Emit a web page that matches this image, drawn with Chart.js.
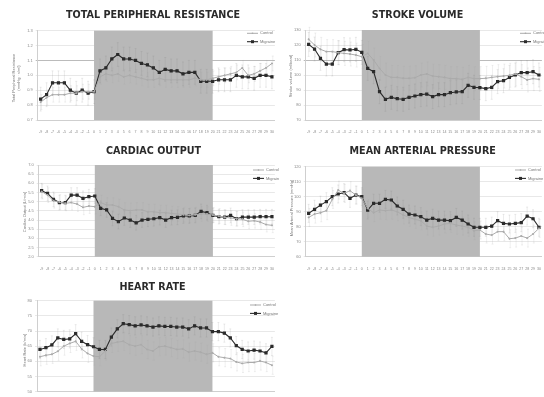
<!DOCTYPE html>
<html><head><meta charset="utf-8">
<script src="https://cdn.jsdelivr.net/npm/chart.js@4.4.1/dist/chart.umd.min.js"></script>
<style>
html,body{margin:0;padding:0;background:#fff;overflow:hidden;width:544px;height:397px;position:relative;}
canvas{position:absolute;background:#fff;}
</style></head><body>
<canvas id="cTPR" width="280" height="135" style="left:0;top:0"></canvas>
<canvas id="cCO" width="280" height="135" style="left:0;top:135px"></canvas>
<canvas id="cHR" width="280" height="127" style="left:0;top:270px"></canvas>
<canvas id="cSV" width="268" height="135" style="left:279px;top:0"></canvas>
<canvas id="cMAP" width="268" height="135" style="left:279px;top:135px"></canvas>
<script>
// ---------- DATA ----------
const timeLabels = ['-9','-8','-7','-6','-5','-4','-3','-2','-1','0','1','2','3','4','5','6','7','8','9','10','11','12','13','14','15','16','17','18','19','20','21','22','23','24','25','26','27','28','29','30'];
const seriesNames = ['Control','Migraine'];

const tprControl  = [0.82,0.85,0.87,0.87,0.87,0.88,0.88,0.89,0.89,0.89, 0.99,1.01,1.00,1.01,0.99,1.00,0.99,0.98,0.97,0.97, 0.98,0.97,0.97,0.97,0.97,0.97,0.98,0.97,0.97,0.98, 0.99,1.00,1.01,1.02,1.05,1.00,1.01,1.03,1.05,1.08];
const tprMigraine = [0.84,0.87,0.95,0.95,0.95,0.90,0.88,0.90,0.88,0.89, 1.03,1.05,1.11,1.14,1.11,1.11,1.10,1.08,1.07,1.05, 1.02,1.04,1.03,1.03,1.01,1.02,1.02,0.96,0.96,0.96, 0.97,0.97,0.97,1.00,0.99,0.99,0.98,1.00,1.00,0.99];

const svControl  = [123.8,120.0,117.1,115.6,115.6,114.9,114.4,114.0,113.3,112.2, 114.4,110.0,104.4,100.0,98.4,98.4,97.8,97.8,98.2,100.0, 100.7,99.3,98.9,98.4,97.6,97.6,97.1,98.4,97.6,97.6, 97.8,98.4,98.9,99.3,99.8,100.7,98.9,96.7,97.6,97.1];
const svMigraine = [120.4,117.3,111.1,107.3,107.3,114.9,116.9,116.7,117.1,115.1, 104.4,102.2,88.9,83.8,85.1,84.2,83.8,85.1,86.0,86.9, 87.3,85.6,86.9,86.9,88.2,88.7,88.9,93.1,91.8,91.6, 90.9,91.8,95.6,96.2,98.4,100.0,101.6,101.6,102.2,100.0];

const coControl  = [5.55,5.36,5.05,4.98,4.91,4.95,4.87,4.69,4.76,4.73, 4.95,4.82,4.82,4.73,4.55,4.51,4.55,4.55,4.45,4.45, 4.40,4.40,4.36,4.33,4.29,4.25,4.29,4.33,4.33,4.27, 4.22,4.15,4.11,4.07,4.04,3.93,3.96,3.89,3.75,3.71];
const coMigraine = [5.60,5.45,5.13,4.95,4.95,5.36,5.36,5.18,5.27,5.31, 4.64,4.55,4.09,3.91,4.11,4.00,3.85,4.00,4.04,4.07, 4.13,4.00,4.13,4.15,4.22,4.22,4.25,4.47,4.40,4.25, 4.18,4.16,4.25,4.07,4.16,4.16,4.16,4.18,4.18,4.18];

const mapControl  = [86.2,88.4,89.3,90.7,98.2,104.4,102.2,104.0,101.1,98.9, 92.2,89.3,91.1,90.7,91.1,90.0,87.8,86.2,84.9,84.0, 80.4,79.6,80.4,81.8,82.2,81.1,80.4,79.6,77.3,77.8, 75.1,74.4,76.7,76.7,72.0,72.4,73.8,72.4,75.1,78.9];
const mapMigraine = [88.9,91.6,94.4,96.7,100.0,101.8,102.7,98.9,101.1,100.0, 91.1,95.6,95.6,98.2,97.8,93.8,91.6,88.4,87.8,86.7, 84.4,85.6,84.4,84.4,84.0,86.2,84.4,81.8,79.6,79.6, 79.6,80.4,84.0,82.2,81.8,82.2,82.7,87.1,85.3,79.6];

const hrControl  = [61.5,62.0,62.3,63.3,65.0,65.9,66.6,64.1,62.6,61.7, 61.5,63.4,65.9,66.3,66.6,65.5,65.0,65.5,63.9,63.4, 64.8,65.0,64.5,63.9,64.1,63.0,63.4,63.0,62.3,62.8, 61.5,61.2,60.9,59.8,59.3,59.6,59.6,60.1,59.6,58.7];
const hrMigraine = [63.9,64.5,65.4,67.7,67.2,67.4,69.1,66.6,65.5,64.8, 63.9,63.9,68.0,70.7,72.4,72.1,71.7,72.0,71.7,71.3, 71.7,71.5,71.5,71.3,71.3,70.7,71.7,71.0,71.0,69.8, 69.8,69.3,67.7,65.2,63.9,63.4,63.7,63.4,62.8,64.9];

// error bar half-widths (control, migraine)
const tprErr = [0.05,0.08];
const svErr  = [8,8];
const coErr  = [0.4,0.4];
const mapErr = [6,6];
const hrErr  = [3,3];

// shaded period (tick labels)
const shadeFrom = '0';
const shadeTo = '20';

// ---------- PLUGIN ----------
const decor = {
  id: 'decor',
  beforeDatasetsDraw(chart, args, o) {
    const {ctx, chartArea: a, scales: {x, y}} = chart;
    const x0 = x.getPixelForValue(timeLabels.indexOf(shadeFrom));
    const x1 = x.getPixelForValue(timeLabels.indexOf(shadeTo));
    ctx.save();
    ctx.fillStyle = '#b8b8b8';
    ctx.fillRect(x0, a.top, x1 - x0, a.bottom - a.top);
    chart.data.datasets.forEach((ds, i) => {
      const e = o.errors[i];
      ctx.strokeStyle = i === 0 ? 'rgba(170,170,170,0.35)' : 'rgba(130,130,130,0.3)';
      ctx.lineWidth = 0.5;
      ds.data.forEach((v, j) => {
        const px = x.getPixelForValue(j) + (i === 0 ? 0.8 : 0);
        const yt = y.getPixelForValue(v + e), yb = y.getPixelForValue(v - e);
        ctx.beginPath();
        ctx.moveTo(px, yt); ctx.lineTo(px, yb);
        ctx.moveTo(px - 1, yt); ctx.lineTo(px + 1, yt);
        ctx.moveTo(px - 1, yb); ctx.lineTo(px + 1, yb);
        ctx.stroke();
      });
    });
    ctx.restore();
  },
  afterDraw(chart, args, o) {
    const {ctx} = chart;
    ctx.save();
    // title
    ctx.fillStyle = '#2a2a2a';
    ctx.font = "bold 9.6px 'DejaVu Sans'";
    ctx.textAlign = 'center';
    ctx.textBaseline = 'middle';
    ctx.fillText(o.title, o.titleX, o.titleY);
    // y axis title
    ctx.fillStyle = '#777';
    ctx.font = "4px 'Liberation Sans'";
    o.yTitle.forEach((t, k) => {
      ctx.save();
      ctx.translate(o.yTitleX + k * 5, o.yTitleY);
      ctx.rotate(-Math.PI / 2);
      ctx.fillText(t, 0, 0);
      ctx.restore();
    });
    // legend
    ctx.textAlign = 'left';
    chart.data.datasets.forEach((ds, i) => {
      const ly = o.legendY + i * 8.4;
      ctx.strokeStyle = ds.borderColor;
      ctx.lineWidth = ds.borderWidth;
      ctx.beginPath(); ctx.moveTo(o.legendX, ly); ctx.lineTo(o.legendX + 11, ly); ctx.stroke();
      ctx.fillStyle = ds.pointBackgroundColor;
      const r = ds.pointRadius;
      ctx.fillRect(o.legendX + 5.5 - r, ly - r, 2 * r, 2 * r);
      ctx.fillStyle = '#777';
      ctx.font = "4px 'Liberation Sans'";
      ctx.fillText(ds.label, o.legendX + 13, ly);
    });
    ctx.restore();
  }
};

function makePanel(id, p) {
  const canvas = document.getElementById(id);
  const W = canvas.width, H = canvas.height;
  new Chart(canvas, {
    type: 'line',
    data: {
      labels: timeLabels,
      datasets: [
        {label: seriesNames[0], data: p.control, borderColor: '#ababab', backgroundColor: '#ababab',
         pointBackgroundColor: '#ababab', pointBorderColor: '#ababab', borderWidth: 1, pointRadius: 0.7, pointStyle: 'rect', tension: 0},
        {label: seriesNames[1], data: p.migraine, borderColor: '#2b2b2b', backgroundColor: '#2b2b2b',
         pointBackgroundColor: '#2b2b2b', pointBorderColor: '#2b2b2b', borderWidth: 1.1, pointRadius: 1.5, pointStyle: 'rect', tension: 0}
      ]
    },
    options: {
      responsive: false, animation: false, devicePixelRatio: 1,
      layout: {padding: {top: p.top, right: W - p.right, left: 0, bottom: 0}},
      plugins: {
        legend: {display: false}, tooltip: {enabled: false}, title: {display: false},
        decor: {errors: p.err, title: p.title, titleX: p.titleX, titleY: p.titleY,
                yTitle: p.yTitle, yTitleX: p.yTitleX, yTitleY: p.yTitleY,
                legendX: p.legendX, legendY: p.legendY}
      },
      scales: {
        x: {
          offset: true,
          grid: {display: false},
          border: {color: '#cfcfcf'},
          ticks: {autoSkip: false, maxRotation: 0, minRotation: 0, padding: 2, color: '#888',
                  font: {size: 3.6, family: 'Liberation Sans'}},
          afterFit: s => { s.height = H - p.bottom; }
        },
        y: {
          min: p.min, max: p.max,
          ticks: {stepSize: p.step, padding: 3, color: '#888', font: {size: 4, family: 'Liberation Sans'},
                  callback: v => Number(v).toFixed(p.dec)},
          grid: {color: (c) => (p.darkTick !== undefined && Math.abs(c.tick.value - p.darkTick) < 1e-6) ? '#a9a9a9' : '#e2e2e2',
                 lineWidth: 0.8, tickLength: 2},
          border: {color: '#cfcfcf'},
          afterFit: s => { s.width = p.left; }
        }
      }
    },
    plugins: [decor]
  });
}

makePanel('cTPR', {control: tprControl, migraine: tprMigraine, err: tprErr,
  min: 0.7, max: 1.3, step: 0.1, dec: 1, darkTick: 1.1,
  left: 37.7, right: 277.7, top: 30.7, bottom: 120,
  title: 'TOTAL PERIPHERAL RESISTANCE', titleX: 153, titleY: 15,
  yTitle: ['Total Peripheral Resistance', '(mmHg · s/ml)'], yTitleX: 14, yTitleY: 78,
  legendX: 247, legendY: 33.3});

makePanel('cSV', {control: svControl, migraine: svMigraine, err: svErr,
  min: 70, max: 130, step: 10, dec: 0, darkTick: 110,
  left: 26.7, right: 266.7, top: 30, bottom: 120,
  title: 'STROKE VOLUME', titleX: 138.5, titleY: 15,
  yTitle: ['Stroke volume (ml/beat)'], yTitleX: 12, yTitleY: 76,
  legendX: 241, legendY: 33.3});

makePanel('cCO', {control: coControl, migraine: coMigraine, err: coErr,
  min: 2.0, max: 7.0, step: 0.5, dec: 1,
  left: 38.7, right: 277.5, top: 30, bottom: 121.7,
  title: 'CARDIAC OUTPUT', titleX: 153.5, titleY: 16,
  yTitle: ['Cardiac Output (L/min)'], yTitleX: 24.5, yTitleY: 77,
  legendX: 253, legendY: 35});

makePanel('cMAP', {control: mapControl, migraine: mapMigraine, err: mapErr,
  min: 60, max: 120, step: 10, dec: 0,
  left: 26.7, right: 266.7, top: 31.7, bottom: 121.7,
  title: 'MEAN ARTERIAL PRESSURE', titleX: 143.7, titleY: 16.7,
  yTitle: ['Mean Arterial Pressure (mmHg)'], yTitleX: 12.5, yTitleY: 73,
  legendX: 236, legendY: 35});

makePanel('cHR', {control: hrControl, migraine: hrMigraine, err: hrErr,
  min: 50, max: 80, step: 5, dec: 0,
  left: 37, right: 277, top: 30.7, bottom: 122.7,
  title: 'HEART RATE', titleX: 152.5, titleY: 17.3,
  yTitle: ['Heart Rate (b/min)'], yTitleX: 25, yTitleY: 80,
  legendX: 250, legendY: 35});
</script>
</body></html>
